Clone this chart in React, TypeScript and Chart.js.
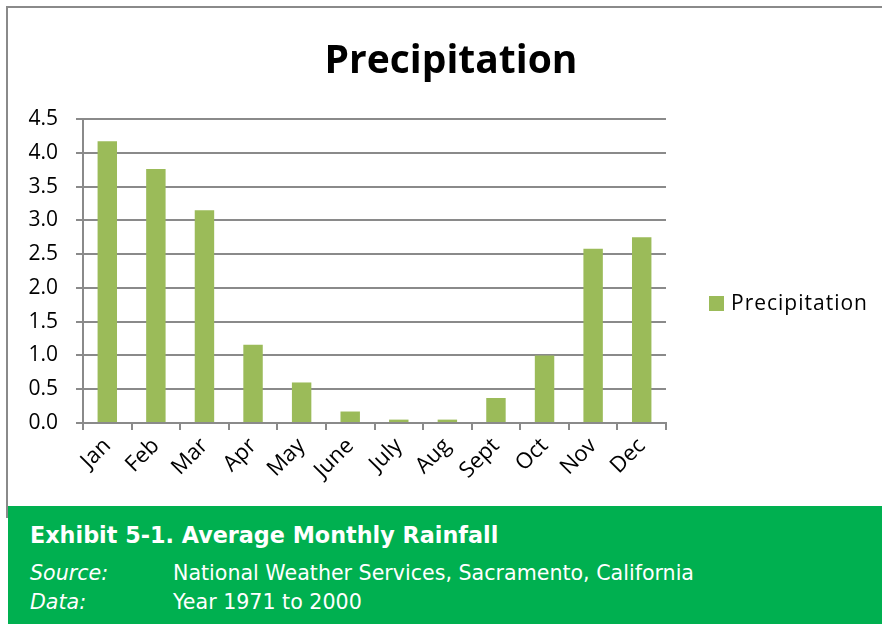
import React, { useEffect, useRef } from 'react';
import { Chart, registerables } from 'chart.js';

Chart.register(...registerables);

const months = ['Jan', 'Feb', 'Mar', 'Apr', 'May', 'June', 'July', 'Aug', 'Sept', 'Oct', 'Nov', 'Dec'];
const precipitation = [4.17, 3.76, 3.15, 1.16, 0.6, 0.17, 0.05, 0.05, 0.37, 1.0, 2.58, 2.75];
const seriesName = 'Precipitation';
const yMin = 0;
const yMax = 4.5;
const yStep = 0.5;

const chartTitle = 'Precipitation';
const exhibitTitle = 'Exhibit 5-1. Average Monthly Rainfall';
const sourceLabel = 'Source:';
const sourceText = 'National Weather Services, Sacramento, California';
const dataLabel = 'Data:';
const dataText = 'Year 1971 to 2000';

const BAR = '#9BBB59';
const GRID = '#8a8a8a';
const FONT = "'Open Sans', sans-serif";

export default function App() {
  const ref = useRef<HTMLCanvasElement | null>(null);

  useEffect(() => {
    if (!ref.current) return;
    const chart = new Chart(ref.current, {
      type: 'bar',
      data: {
        labels: months,
        datasets: [
          {
            label: seriesName,
            data: precipitation,
            backgroundColor: BAR,
            borderWidth: 0,
            categoryPercentage: 1,
            barPercentage: 0.4,
          },
        ],
      },
      options: {
        responsive: false,
        animation: false,
        devicePixelRatio: 1,
        layout: { padding: { left: 0, right: 216, top: 119, bottom: 0 } },
        plugins: {
          legend: { display: false },
          title: { display: false },
          tooltip: { enabled: false },
        },
        scales: {
          x: {
            offset: true,
            grid: {
              offset: true,
              drawOnChartArea: false,
              drawTicks: true,
              tickLength: 7,
              color: GRID,
              lineWidth: 2,
            },
            border: { display: true, color: GRID, width: 2 },
            ticks: {
              autoSkip: false,
              minRotation: 45,
              maxRotation: 45,
              padding: 3,
              color: '#000',
              font: { family: FONT, size: 22 },
            },
            afterFit: (scale: any) => {
              scale.height = 82;
            },
          },
          y: {
            min: yMin,
            max: yMax,
            grid: {
              drawTicks: true,
              tickLength: 7,
              color: GRID,
              lineWidth: 2,
            },
            border: { display: true, color: GRID, width: 2 },
            ticks: {
              stepSize: yStep,
              padding: 18,
              color: '#000',
              font: { family: FONT, size: 21 },
              callback: (v: any) => Number(v).toFixed(1),
            },
            afterFit: (scale: any) => {
              scale.width = 83;
            },
          },
        },
      },
    });
    return () => chart.destroy();
  }, []);

  const greenText: React.CSSProperties = {
    position: 'absolute',
    color: '#fff',
    fontFamily: "'DejaVu Sans', sans-serif",
    whiteSpace: 'nowrap',
    lineHeight: 1,
  };

  return (
    <div
      style={{
        position: 'absolute',
        left: 0,
        top: 0,
        width: 882,
        height: 624,
        background: '#fff',
        overflow: 'hidden',
      }}
    >
      <div
        style={{
          position: 'absolute',
          left: 6,
          top: 6,
          width: 880,
          height: 512,
          borderTop: `2px solid ${GRID}`,
          borderLeft: `2px solid ${GRID}`,
          boxSizing: 'border-box',
        }}
      />
      <canvas ref={ref} width={882} height={505} style={{ position: 'absolute', left: 0, top: 0 }} />
      <div
        style={{
          position: 'absolute',
          left: 251,
          top: 38,
          width: 400,
          textAlign: 'center',
          fontFamily: FONT,
          fontWeight: 700,
          fontSize: 39,
          lineHeight: 1,
          color: '#000',
        }}
      >
        {chartTitle}
      </div>
      <div style={{ position: 'absolute', left: 709, top: 296, width: 15, height: 15, background: BAR }} />
      <div
        style={{
          position: 'absolute',
          left: 731,
          top: 292,
          fontFamily: FONT,
          fontSize: 21,
          letterSpacing: 1,
          lineHeight: 1,
          color: '#000',
          whiteSpace: 'nowrap',
        }}
      >
        {seriesName}
      </div>
      <div
        style={{
          position: 'absolute',
          left: 8,
          top: 506,
          width: 874,
          height: 118,
          background: '#00B050',
        }}
      />
      <div style={{ ...greenText, left: 30, top: 524, fontSize: 22.3, fontWeight: 700 }}>{exhibitTitle}</div>
      <div style={{ ...greenText, left: 30, top: 563, fontSize: 20.6, fontStyle: 'italic' }}>{sourceLabel}</div>
      <div style={{ ...greenText, left: 173, top: 563, fontSize: 20.6 }}>{sourceText}</div>
      <div style={{ ...greenText, left: 30, top: 592, fontSize: 20.6, fontStyle: 'italic' }}>{dataLabel}</div>
      <div style={{ ...greenText, left: 173, top: 592, fontSize: 20.6 }}>{dataText}</div>
    </div>
  );
}
